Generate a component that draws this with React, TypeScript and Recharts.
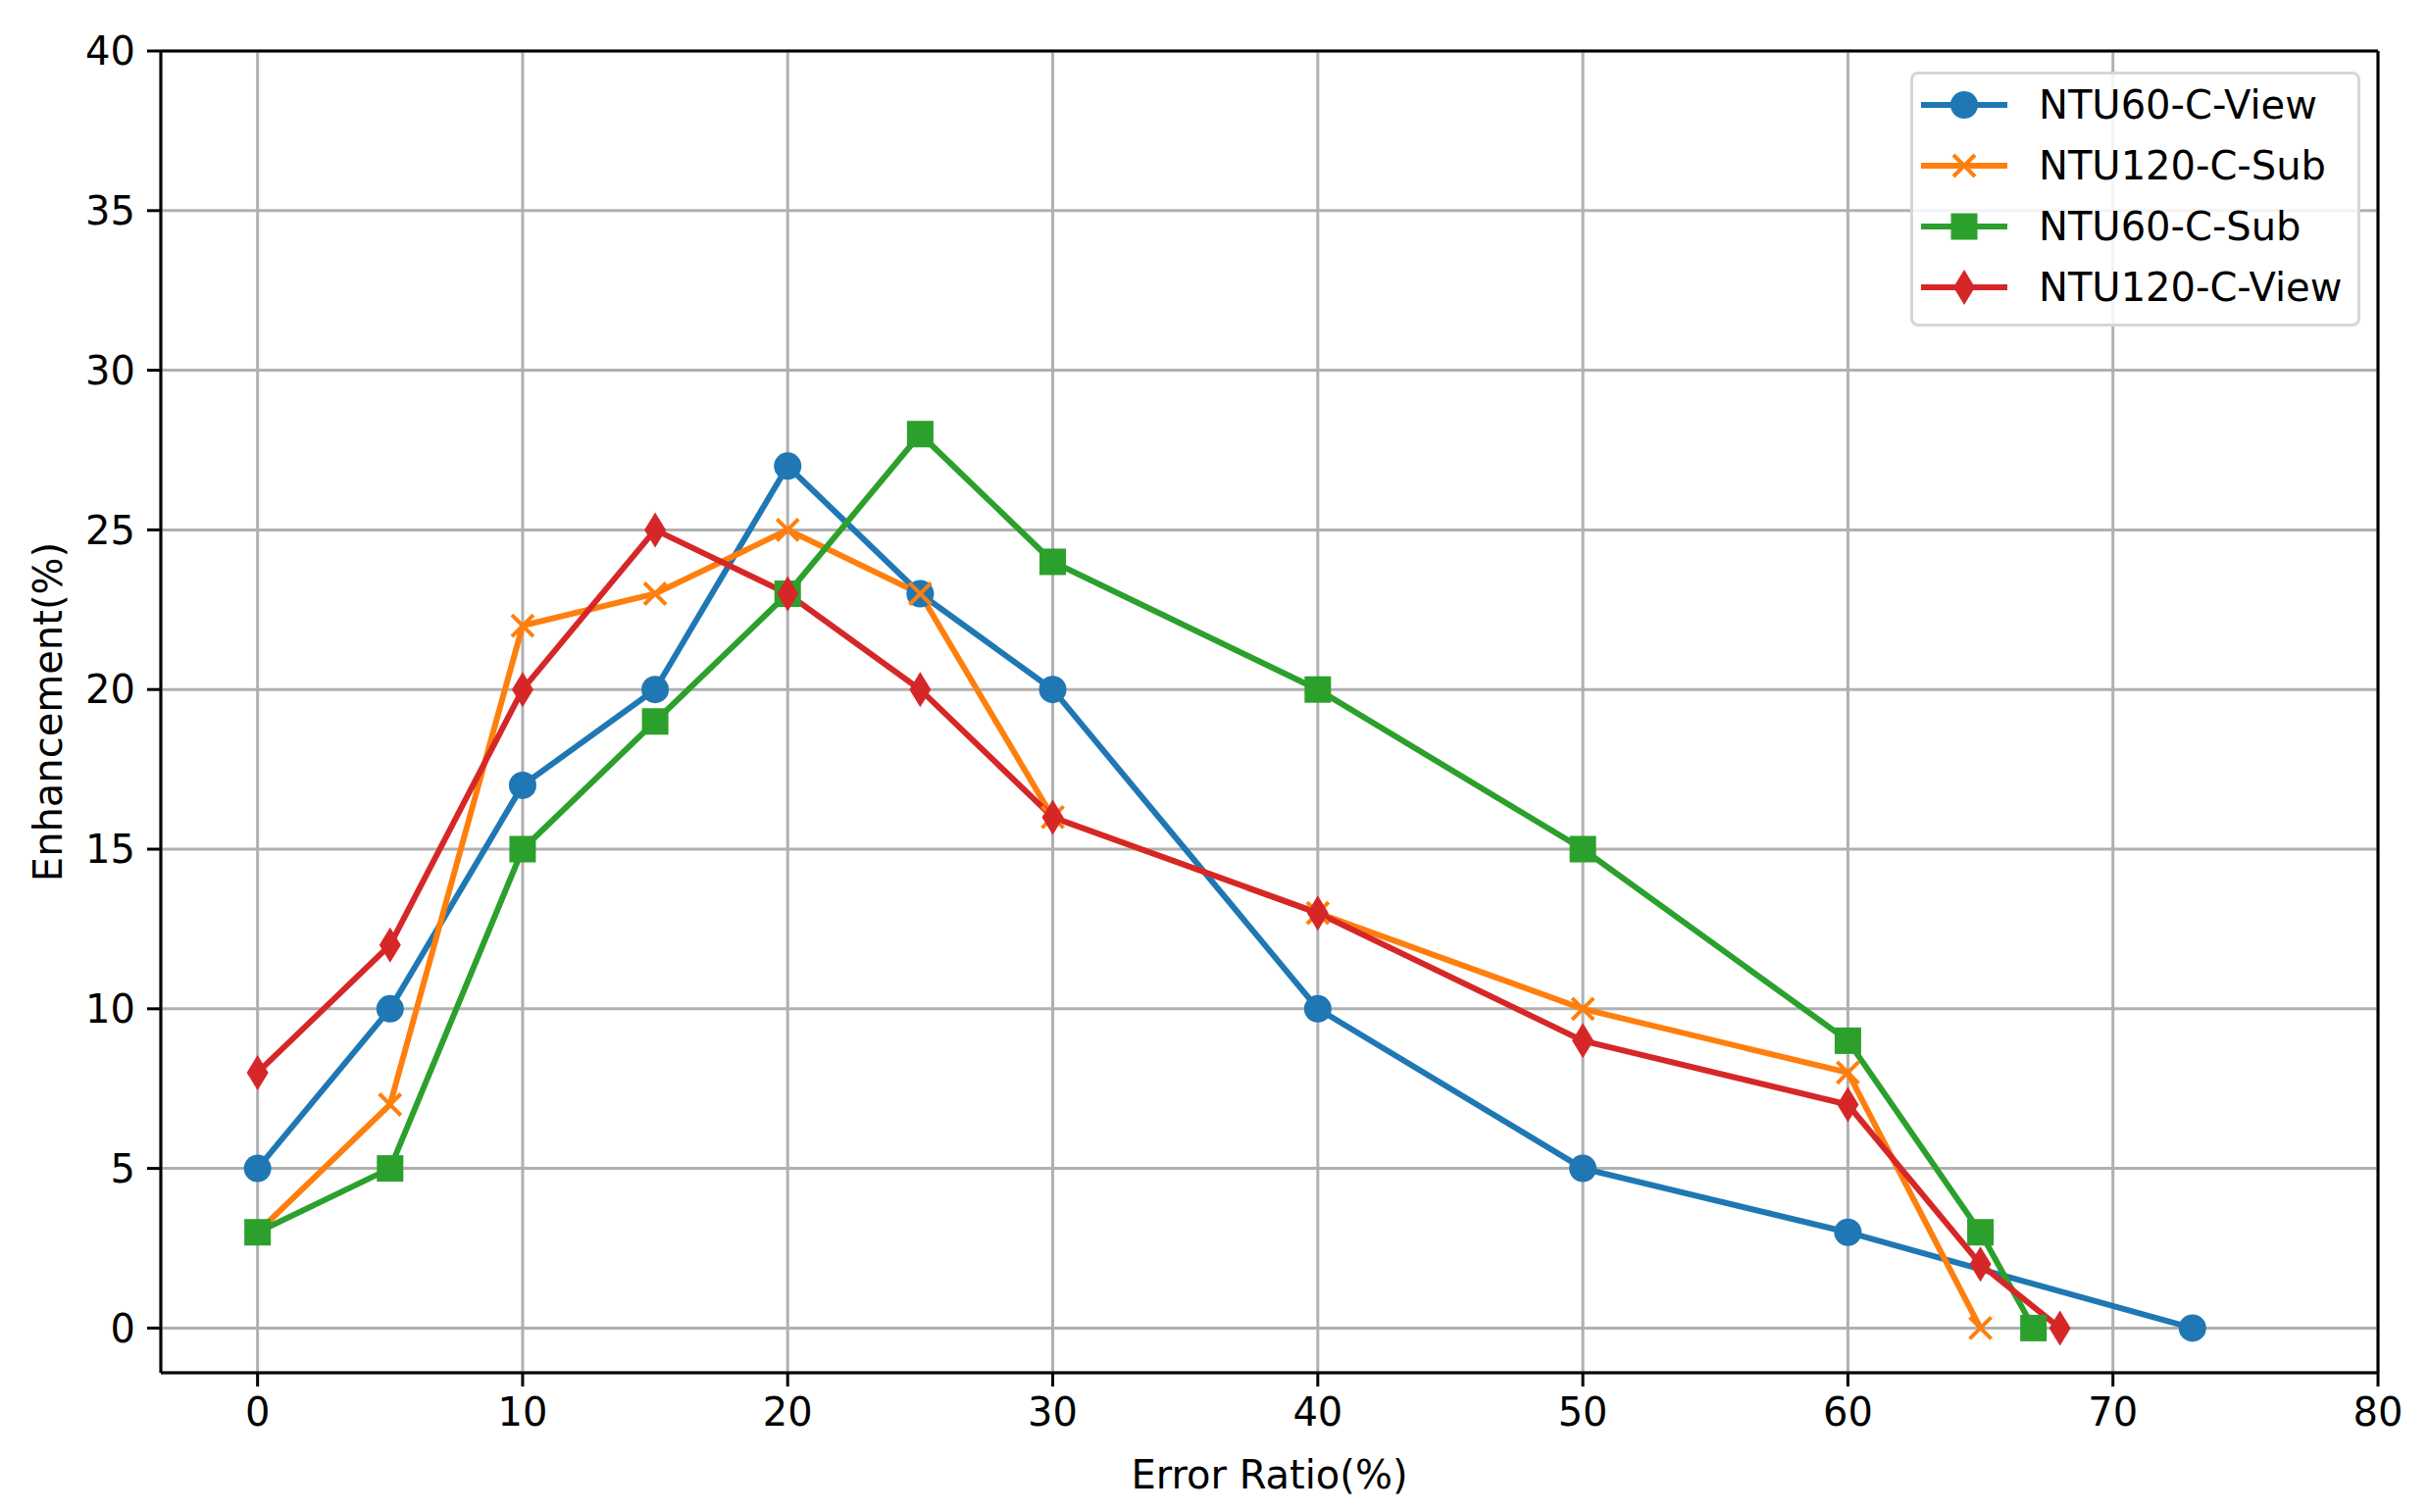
import React from 'react';
import {
    LineChart,
    Line,
    XAxis,
    YAxis,
    CartesianGrid,
    ReferenceLine,
} from 'recharts';

// error ratio (%) and enhancement (%) per series
const blueX = [0, 5, 10, 15, 20, 25, 30, 40, 50, 60, 73];
const blueY = [5, 10, 17, 20, 27, 23, 20, 10, 5, 3, 0];

const orangeX = [0, 5, 10, 15, 20, 25, 30, 40, 50, 60, 65];
const orangeY = [3, 7, 22, 23, 25, 23, 16, 13, 10, 8, 0];

const greenX = [0, 5, 10, 15, 20, 25, 30, 40, 50, 60, 65, 67];
const greenY = [3, 5, 15, 19, 23, 28, 24, 20, 15, 9, 3, 0];

const redX = [0, 5, 10, 15, 20, 25, 30, 40, 50, 60, 65, 68];
const redY = [8, 12, 20, 25, 23, 20, 16, 13, 9, 7, 2, 0];

const xTicks = [0, 10, 20, 30, 40, 50, 60, 70, 80];
const yTicks = [0, 5, 10, 15, 20, 25, 30, 35, 40];

const toRows = (xs: number[], ys: number[]) => xs.map((x, i) => ({ x, y: ys[i] }));

const series = [
    { name: 'NTU60-C-View', color: '#1f77b4', shape: 'circle', data: toRows(blueX, blueY) },
    { name: 'NTU120-C-Sub', color: '#ff7f0e', shape: 'x', data: toRows(orangeX, orangeY) },
    { name: 'NTU60-C-Sub', color: '#2ca02c', shape: 'square', data: toRows(greenX, greenY) },
    { name: 'NTU120-C-View', color: '#d62728', shape: 'diamond', data: toRows(redX, redY) },
];

const FONT = '"DejaVu Sans", sans-serif';

const Marker = ({ shape, color, cx, cy }: { shape: string; color: string; cx: number; cy: number }) => {
    if (shape === 'circle') return <circle cx={cx} cy={cy} r={14} fill={color} />;
    if (shape === 'square') return <rect x={cx - 13.5} y={cy - 13.5} width={27} height={27} fill={color} />;
    if (shape === 'diamond')
        return (
            <polygon
                points={`${cx},${cy - 18} ${cx + 11},${cy} ${cx},${cy + 18} ${cx - 11},${cy}`}
                fill={color}
            />
        );
    return (
        <g stroke={color} strokeWidth={4}>
            <line x1={cx - 11} y1={cy - 11} x2={cx + 11} y2={cy + 11} />
            <line x1={cx - 11} y1={cy + 11} x2={cx + 11} y2={cy - 11} />
        </g>
    );
};

const makeDot = (shape: string, color: string) => (props: any) => (
    <Marker key={`${shape}-${props.index}`} shape={shape} color={color} cx={props.cx} cy={props.cy} />
);

const LegendBox = () => (
    <div
        style={{
            position: 'absolute',
            left: 1948,
            top: 73,
            border: '3px solid #d6d6d6',
            borderRadius: 8,
            background: 'rgba(255,255,255,0.85)',
            width: 453,
            paddingBottom: 6,
            fontFamily: FONT,
        }}
    >
        {series.map((s) => (
            <div key={s.name} style={{ display: 'flex', alignItems: 'center', height: 62 }}>
                <svg width={128} height={62} style={{ flex: 'none' }}>
                    <line x1={8} y1={31} x2={96} y2={31} stroke={s.color} strokeWidth={6} />
                    <Marker shape={s.shape} color={s.color} cx={52} cy={31} />
                </svg>
                <span style={{ fontSize: 40, color: '#000', whiteSpace: 'nowrap' }}>{s.name}</span>
            </div>
        ))}
    </div>
);

const App = () => {
    return (
        <div style={{ position: 'absolute', left: 0, top: 0, width: 2477, height: 1542, background: '#fff' }}>
            <LineChart
                width={2477}
                height={1542}
                margin={{ top: 52, right: 52, bottom: 0, left: 0 }}
                style={{ fontFamily: FONT }}
            >
                <CartesianGrid stroke="#b0b0b0" strokeWidth={3} />
                <XAxis
                    type="number"
                    dataKey="x"
                    domain={[-3.65, 80]}
                    ticks={xTicks}
                    allowDataOverflow
                    height={142}
                    axisLine={{ stroke: '#000', strokeWidth: 3 }}
                    tickLine={{ stroke: '#000', strokeWidth: 3 }}
                    tickSize={14}
                    tickMargin={12}
                    tick={{ fill: '#000', fontSize: 40 }}
                    label={{ value: 'Error Ratio(%)', position: 'insideBottom', offset: 24, fill: '#000', fontSize: 40 }}
                />
                <YAxis
                    type="number"
                    domain={[-1.4, 40]}
                    ticks={yTicks}
                    allowDataOverflow
                    width={164}
                    axisLine={{ stroke: '#000', strokeWidth: 3 }}
                    tickLine={{ stroke: '#000', strokeWidth: 3 }}
                    tickSize={14}
                    tickMargin={12}
                    tick={{ fill: '#000', fontSize: 40 }}
                    label={{
                        value: 'Enhancement(%)',
                        angle: -90,
                        position: 'insideLeft',
                        offset: 49,
                        style: { textAnchor: 'middle' },
                        fill: '#000',
                        fontSize: 40,
                    }}
                />
                <ReferenceLine y={40} stroke="#000" strokeWidth={3} />
                <ReferenceLine x={80} stroke="#000" strokeWidth={3} />
                {series.map((s) => (
                    <Line
                        key={s.name}
                        name={s.name}
                        data={s.data}
                        dataKey="y"
                        type="linear"
                        stroke={s.color}
                        strokeWidth={6}
                        dot={makeDot(s.shape, s.color)}
                        activeDot={false}
                        isAnimationActive={false}
                    />
                ))}
            </LineChart>
            <LegendBox />
        </div>
    );
};

export default App;
